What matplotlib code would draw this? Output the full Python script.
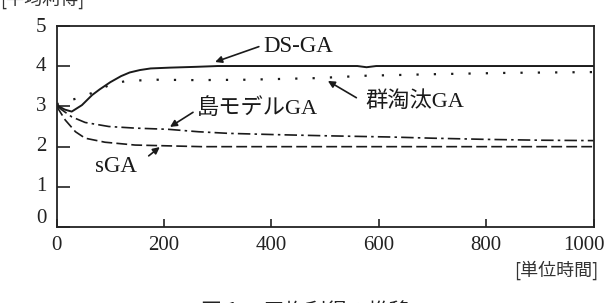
import matplotlib
matplotlib.use("Agg")
import matplotlib.pyplot as plt
from matplotlib.transforms import offset_copy

# ---- data ----
x_ds = [0, 15, 28, 47, 66, 80, 100, 120, 136, 155, 175, 211, 260, 300, 400, 500, 560, 577, 595, 700, 800, 900, 1000]
y_ds = [3.03, 2.92, 2.87, 3.03, 3.28, 3.42, 3.60, 3.75, 3.84, 3.90, 3.94, 3.96, 3.98, 4.00, 4.00, 4.00, 4.00, 3.97, 4.00, 4.00, 4.00, 4.00, 4.00]

x_grp = [0, 22, 50, 77, 102, 130, 186, 260, 354, 484, 577, 713, 840, 1000]
y_grp = [3.05, 3.14, 3.24, 3.40, 3.55, 3.63, 3.66, 3.65, 3.66, 3.70, 3.76, 3.80, 3.83, 3.85]

x_isl = [0, 10, 28, 53, 97, 146, 208, 264, 320, 403, 500, 620, 700, 802, 900, 1000]
y_isl = [3.02, 2.91, 2.74, 2.60, 2.50, 2.46, 2.43, 2.37, 2.33, 2.30, 2.27, 2.24, 2.21, 2.18, 2.16, 2.15]

x_sga = [0, 16, 35, 53, 90, 146, 208, 270, 400, 600, 800, 1000]
y_sga = [3.00, 2.66, 2.37, 2.21, 2.11, 2.04, 2.02, 2.00, 2.00, 2.00, 2.00, 2.00]

x_ticks = [0, 200, 400, 600, 800, 1000]
y_ticks = [0, 1, 2, 3, 4, 5]

serif = ['Liberation Serif', 'Noto Sans CJK JP']
cjk = ['Noto Sans CJK JP', 'DejaVu Sans']
col = '#1a1a1a'

fig = plt.figure(figsize=(6.12, 3.03), dpi=100)
ax = fig.add_axes([0.0926, 0.2498, 0.8775, 0.6654])

ax.plot(x_ds, y_ds, color=col, lw=1.4, ls='-')
ax.plot(x_grp, y_grp, color=col, lw=1.6, ls=(0, (1, 6.8)))
ax.plot(x_isl, y_isl, color=col, lw=1.2, ls=(0, (7.5, 2.5, 1.5, 2.5)))
ax.plot(x_sga, y_sga, color=col, lw=1.2, ls=(0, (6.5, 2.5)))

ax.set_xlim(0, 1000)
ax.set_ylim(0, 5)
for s in ax.spines.values():
    s.set_linewidth(1.3)
    s.set_color('#222222')

ax.set_xticks(x_ticks)
ax.set_xticklabels([])
ax.tick_params(axis='x', direction='in', length=6, width=1.2, colors='#222222')
ax.set_yticks(y_ticks)
ax.set_yticklabels([])
ax.tick_params(axis='y', direction='in', length=9.5, width=1.2, colors='#222222')

# tick labels, placed like the reference (0 on y sits higher, 1000 on x pulled in)
y_label_shift = {0: 6, 5: -1.5}
for v in y_ticks:
    tr = offset_copy(ax.get_yaxis_transform(), fig=fig, x=-7.5, y=y_label_shift.get(v, 0), units='points')
    ax.text(0, v, str(v), transform=tr, ha='right', va='center', family=serif, fontsize=15, color='#222222')
x_label_shift = {1000: -7}
for v in x_ticks:
    tr = offset_copy(ax.get_xaxis_transform(), fig=fig, x=x_label_shift.get(v, 0), y=-6, units='points')
    ax.text(v, 0, str(v), transform=tr, ha='center', va='top', family=serif, fontsize=15, color='#222222')

# annotations
ap = dict(arrowstyle='-|>', color=col, lw=1.2, mutation_scale=10, shrinkA=1, shrinkB=0)
ax.annotate('DS-GA', xy=(295, 4.1), xytext=(449, 4.49), family=serif, fontsize=16.5,
            ha='center', va='center', color=col,
            arrowprops=dict(ap, relpos=(0, 0.55)))
ax.annotate('群淘汰GA', xy=(505, 3.63), xytext=(666, 3.11), family=serif, fontsize=16,
            ha='center', va='center', color=col,
            arrowprops=dict(ap, relpos=(-0.05, 0.6), shrinkA=3))
ax.annotate('島モデルGA', xy=(211, 2.49), xytext=(374, 2.94), family=serif, fontsize=16,
            ha='center', va='center', color=col,
            arrowprops=dict(ap, relpos=(0, 0.45)))
ax.annotate('sGA', xy=(192, 1.99), xytext=(111, 1.52), family=serif, fontsize=16.5,
            ha='center', va='center', color=col,
            arrowprops=dict(ap, relpos=(1, 0.55), shrinkA=8))

# axis captions
fig.text(0.0, 1 - 9 / 303, '[平均利得]', family=cjk, fontsize=13, ha='left', va='bottom', color='#333333')
fig.text(598 / 612, 1 - 270 / 303, '[単位時間]', family=cjk, fontsize=13, ha='right', va='center', color='#333333')
fig.text(305 / 612, 1 - 301 / 303, '図 1　 平均利得の推移', family=cjk, fontsize=15, ha='center', va='top', color='#222222')

fig.savefig('out.png', dpi=100)
